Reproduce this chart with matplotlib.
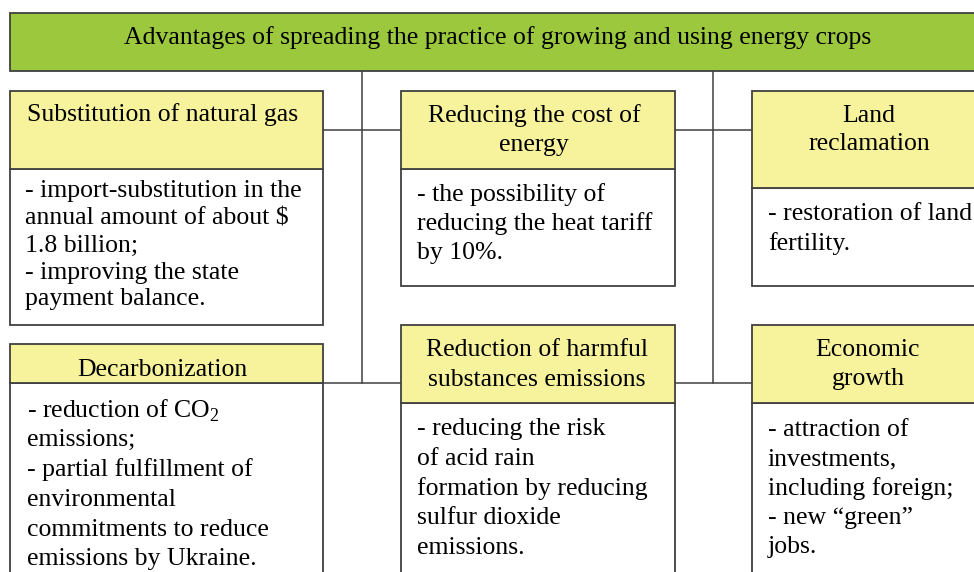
import matplotlib
matplotlib.use('Agg')
import matplotlib.pyplot as plt
from matplotlib.patches import Rectangle

plt.rcParams['font.family'] = ['Liberation Serif', 'DejaVu Serif']
plt.rcParams['mathtext.fontset'] = 'custom'
plt.rcParams['mathtext.rm'] = 'Liberation Serif'

# --- content ---
main_title = "Advantages of spreading the practice of growing and using energy crops"

titles = [
    ["Substitution of natural gas"],
    ["Reducing the cost of", "energy"],
    ["Land", "reclamation"],
    ["Decarbonization"],
    ["Reduction of harmful", "substances emissions"],
    ["Economic", "growth"],
]

bodies = [
    ["- import-substitution in the", "annual amount of about $", "1.8 billion;",
     "- improving the state", "payment balance."],
    ["- the possibility of", "reducing the heat tariff", "by 10%."],
    ["- restoration of land", "fertility."],
    ["- reduction of CO$_2$", "emissions;", "- partial fulfillment of",
     "environmental", "commitments to reduce", "emissions by Ukraine."],
    ["- reducing the risk", "of acid rain", "formation by reducing",
     "sulfur dioxide", "emissions."],
    ["- attraction of", "investments,", "including foreign;",
     "- new \u201cgreen\u201d", "jobs."],
]

# --- layout (pixels, y down) ---
W, H = 974, 572
GREEN = '#9bc83c'
YELLOW = '#f7f39c'
EDGE = '#404040'
FS = 18.5

# box: (x0, x1, header_top, header_bottom, body_bottom)
boxes = [
    (10, 323, 91, 169, 325),
    (401, 675, 91, 169, 286),
    (752, 990, 91, 188, 286),
    (10, 323, 344, 383, 600),
    (401, 675, 325, 403, 600),
    (752, 990, 325, 403, 600),
]
# title anchor (x center, first line y, line step)
title_pos = [(163, 112, 0), (534, 113, 30), (869, 113, 29),
             (162, 367, 0), (537, 347, 30), (868, 347, 30)]
# body anchor (x left, first line y, line step)
body_pos = [(25, 189, 27), (417, 192, 29), (768, 212, 29.5),
            (27, 407, 30), (417, 427, 29.5), (768, 427, 29.5)]

fig = plt.figure(figsize=(W / 100, H / 100), dpi=100)
ax = fig.add_axes([0, 0, 1, 1])
ax.set_xlim(0, W)
ax.set_ylim(H, 0)
ax.axis('off')

lw = 1.1
# connectors
for xv in (362, 713):
    ax.plot([xv, xv], [71, 383], color=EDGE, lw=lw, zorder=1)
for yh in (130, 383):
    ax.plot([323, 401], [yh, yh], color=EDGE, lw=lw, zorder=1)
    ax.plot([675, 752], [yh, yh], color=EDGE, lw=lw, zorder=1)

# top bar
ax.add_patch(Rectangle((10, 13), 1000, 58, facecolor=GREEN, edgecolor=EDGE, lw=1.3, zorder=2))
ax.text(498, 35, main_title, ha='center', va='center_baseline', fontsize=FS, zorder=3)

for (x0, x1, ht, hb, bb), t, (tx, ty, tstep), body, (bx, by, step) in zip(boxes, titles, title_pos, bodies, body_pos):
    ax.add_patch(Rectangle((x0, hb), x1 - x0, bb - hb, facecolor='white', edgecolor=EDGE, lw=1.3, zorder=2))
    ax.add_patch(Rectangle((x0, ht), x1 - x0, hb - ht, facecolor=YELLOW, edgecolor=EDGE, lw=1.3, zorder=2))
    for i, line in enumerate(t):
        ax.text(tx, ty + i * tstep, line, ha='center', va='center_baseline', fontsize=FS, zorder=3)
    for i, line in enumerate(body):
        ax.text(bx, by + i * step, line, ha='left', va='center_baseline', fontsize=FS, zorder=3)

fig.savefig('out.png', dpi=100)
